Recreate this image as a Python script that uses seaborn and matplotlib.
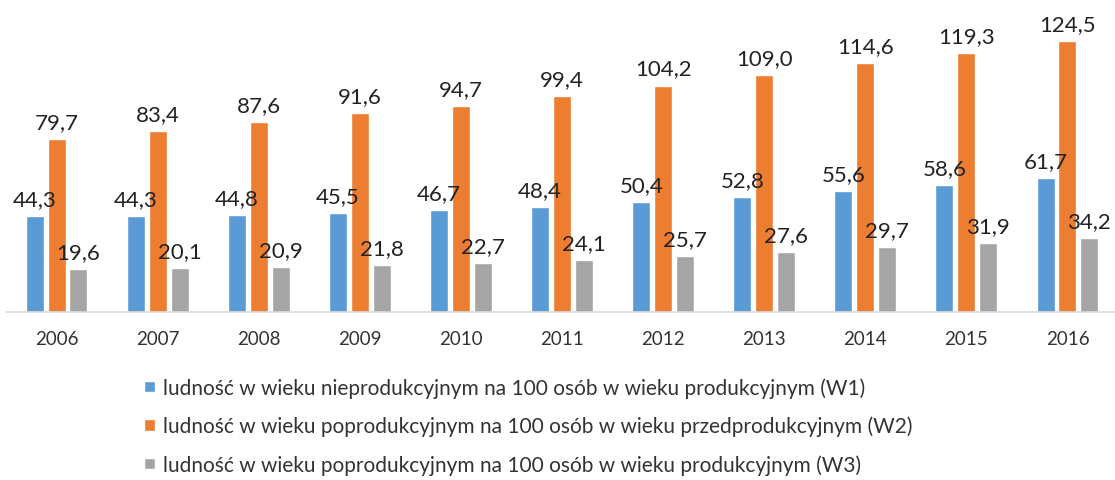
import matplotlib
matplotlib.use("Agg")
import matplotlib.pyplot as plt
import pandas as pd
import seaborn as sns

# data
years = ["2006", "2007", "2008", "2009", "2010", "2011", "2012", "2013", "2014", "2015", "2016"]
w1 = [44.3, 44.3, 44.8, 45.5, 46.7, 48.4, 50.4, 52.8, 55.6, 58.6, 61.7]
w2 = [79.7, 83.4, 87.6, 91.6, 94.7, 99.4, 104.2, 109.0, 114.6, 119.3, 124.5]
w3 = [19.6, 20.1, 20.9, 21.8, 22.7, 24.1, 25.7, 27.6, 29.7, 31.9, 34.2]
series_names = [
    "ludność w wieku nieprodukcyjnym na 100 osób w wieku produkcyjnym (W1)",
    "ludność w wieku poprodukcyjnym na 100 osób w wieku przedprodukcyjnym (W2)",
    "ludność w wieku poprodukcyjnym na 100 osób w wieku produkcyjnym (W3)",
]
colors = ["#5B9BD5", "#ED7D31", "#A5A5A5"]

rows = []
for name, vals in zip(series_names, [w1, w2, w3]):
    for y, v in zip(years, vals):
        rows.append({"rok": y, "wartosc": v, "seria": name})
df = pd.DataFrame(rows)

sns.set_theme(style="white")
plt.rcParams["font.family"] = ["Lato", "DejaVu Sans"]

fig = plt.figure(figsize=(11.15, 4.81), dpi=100)
ax = fig.add_axes([6 / 1115, 168 / 481, 1112 / 1115, 313 / 481])

sns.barplot(data=df, x="rok", y="wartosc", hue="seria", palette=colors,
            width=0.65, gap=0.18, saturation=1, ax=ax, legend=True)

for cont in ax.containers:
    ax.bar_label(cont, labels=[f"{v:.1f}".replace(".", ",") for v in cont.datavalues],
                 padding=5, fontsize=16, color="#222222")

ax.set_ylim(0, 144)
ax.set_xlim(-0.5, 10.5)
ax.set_xlabel("")
ax.set_ylabel("")
ax.set_yticks([])
for s in ["top", "left", "right"]:
    ax.spines[s].set_visible(False)
ax.spines["bottom"].set_color("#D9D9D9")
ax.spines["bottom"].set_linewidth(1.2)
ax.tick_params(axis="x", length=0, pad=13, labelsize=13.5, colors="#333333")

handles, labels = ax.get_legend_handles_labels()
ax.get_legend().remove()
fig.legend(handles, labels, loc="upper left", bbox_to_anchor=(138 / 1115, 1 - 372 / 481),
           frameon=False, fontsize=15, handlelength=0.5, handleheight=0.5,
           handletextpad=0.4, labelspacing=0.86, labelcolor="#333333",
           borderaxespad=0, borderpad=0.3)

fig.savefig("out.png", dpi=100)
